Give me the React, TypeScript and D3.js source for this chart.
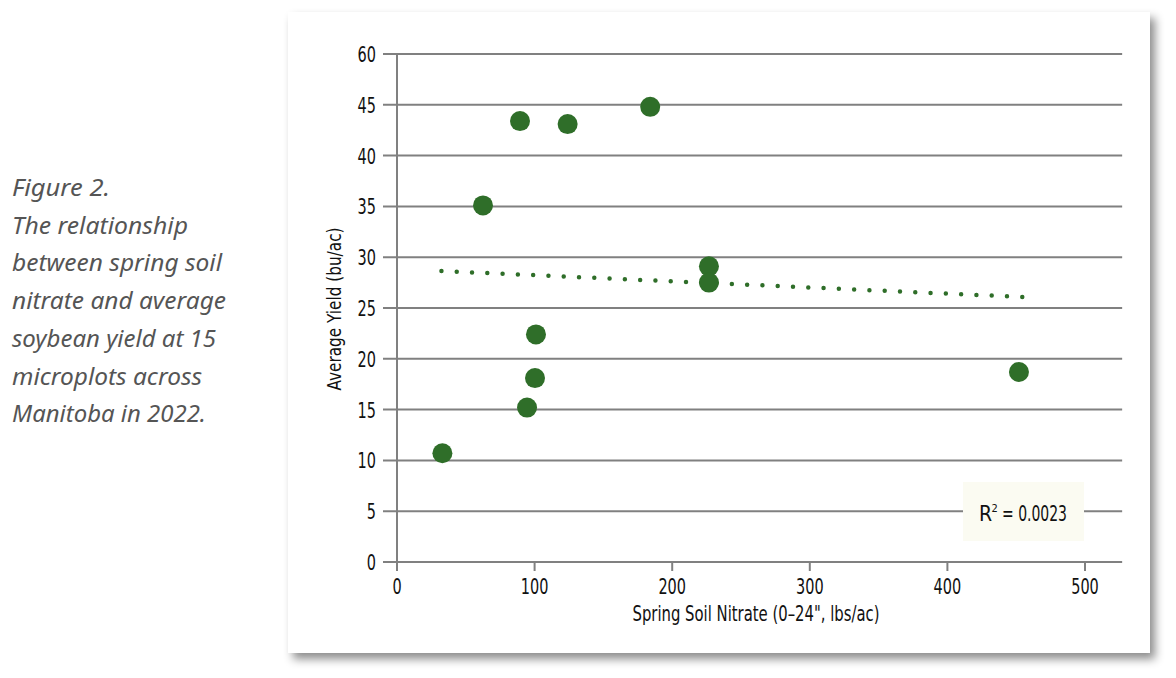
import React from "react";
import * as d3 from "d3";

// ---- data ----
const nitrate = [33, 62.5, 89.4, 124, 184, 101, 100.3, 94.5, 226.7, 226.7, 452];
const yieldAvg = [10.7, 35.1, 43.4, 43.1, 44.8, 22.4, 18.1, 15.2, 29.1, 27.5, 18.7];
const xTickValues = [0, 100, 200, 300, 400, 500];
const yTickValues = [0, 5, 10, 15, 20, 25, 30, 35, 40, 45, 50];
const yTickLabels = ["0", "5", "10", "15", "20", "25", "30", "35", "40", "45", "60"];
const trendStart = { x: 32.3, y: 28.64 };
const trendEnd = { x: 455, y: 26.08 };
const rSquared = "0.0023";
const captionLines = [
  "Figure 2.",
  "The relationship",
  "between spring soil",
  "nitrate and average",
  "soybean yield at 15",
  "microplots across",
  "Manitoba in 2022.",
];
const captionWidths = [98, 176, 210, 214, 204, 190, 194];

const FONT = "'Liberation Sans Narrow', 'DejaVu Sans Condensed', 'Liberation Sans', sans-serif";
const CAPFONT = "'Noto Sans', 'Open Sans', sans-serif";
const GREEN = "#2f6e29";
const GRID = "#808080";

export default function App() {
  const x = d3.scaleLinear().domain([0, 500]).range([397, 1085]);
  const y = d3.scaleLinear().domain([0, 50]).range([562, 54]);
  const gridLeft = 383;
  const gridRight = x(527);

  const digitW = 9.2;

  return (
    <svg
      width={1176}
      height={678}
      style={{ position: "absolute", left: 0, top: 0, background: "#fff" }}
    >
      <defs>
        <filter id="shadow" x="-10%" y="-10%" width="125%" height="125%">
          <feDropShadow dx="5" dy="6" stdDeviation="5" floodColor="#000" floodOpacity="0.45" />
        </filter>
      </defs>
      <rect x={0} y={0} width={1176} height={678} fill="#fff" />

      {/* caption */}
      {captionLines.map((t, i) => (
        <text
          key={i}
          x={12}
          y={196 + i * 37.7}
          fontFamily={CAPFONT}
          fontStyle="italic"
          fontSize={23}
          fill="#555"
          textLength={captionWidths[i]}
          lengthAdjust="spacingAndGlyphs"
        >
          {t}
        </text>
      ))}

      {/* card */}
      <rect x={288} y={12} width={862} height={641} fill="#fff" filter="url(#shadow)" />

      {/* gridlines */}
      {yTickValues.map((v, i) => (
        <line
          key={"g" + i}
          x1={gridLeft}
          x2={gridRight}
          y1={y(v)}
          y2={y(v)}
          stroke={GRID}
          strokeWidth={2}
        />
      ))}

      {/* y axis line */}
      <line x1={x(0)} x2={x(0)} y1={y(50)} y2={y(0) + 9} stroke={GRID} strokeWidth={2} />

      {/* x ticks */}
      {xTickValues.map((v, i) => (
        <g key={"xt" + i}>
          <line x1={x(v)} x2={x(v)} y1={y(0)} y2={y(0) + 9} stroke={GRID} strokeWidth={2} />
          <text
            x={x(v)}
            y={594}
            textAnchor="middle"
            fontFamily={FONT}
            fontSize={22}
            fill="#111"
            textLength={String(v).length * digitW}
            lengthAdjust="spacingAndGlyphs"
          >
            {v}
          </text>
        </g>
      ))}

      {/* y tick labels */}
      {yTickValues.map((v, i) => (
        <text
          key={"yl" + i}
          x={376}
          y={y(v) + 8}
          textAnchor="end"
          fontFamily={FONT}
          fontSize={22}
          fill="#111"
          textLength={yTickLabels[i].length * digitW}
          lengthAdjust="spacingAndGlyphs"
        >
          {yTickLabels[i]}
        </text>
      ))}

      {/* R² box */}
      <rect x={963} y={482} width={121} height={59} fill="#fbfbf2" />
      <text x={979} y={521} fontFamily={FONT} fontSize={21} fill="#111">
        R
      </text>
      <text x={991.5} y={512} fontFamily={FONT} fontSize={11} fill="#111">
        2
      </text>
      <text
        x={1002}
        y={521}
        fontFamily={FONT}
        fontSize={21}
        fill="#111"
        textLength={65}
        lengthAdjust="spacingAndGlyphs"
      >
        {"= " + rSquared}
      </text>

      {/* trend line */}
      <line
        x1={x(trendStart.x)}
        y1={y(trendStart.y)}
        x2={x(trendEnd.x)}
        y2={y(trendEnd.y)}
        stroke={GREEN}
        strokeWidth={4.5}
        strokeLinecap="round"
        strokeDasharray="0 15.3"
      />

      {/* points */}
      {nitrate.map((n, i) => (
        <circle key={"p" + i} cx={x(n)} cy={y(yieldAvg[i])} r={10} fill={GREEN} />
      ))}

      {/* axis titles */}
      <text
        x={756}
        y={621}
        textAnchor="middle"
        fontFamily={FONT}
        fontSize={21}
        fill="#111"
        textLength={247}
        lengthAdjust="spacingAndGlyphs"
      >
        Spring Soil Nitrate (0–24", lbs/ac)
      </text>
      <text
        transform={`translate(341,309) rotate(-90)`}
        textAnchor="middle"
        fontFamily={FONT}
        fontSize={20}
        fill="#111"
        textLength={163}
        lengthAdjust="spacingAndGlyphs"
      >
        Average  Yield (bu/ac)
      </text>
    </svg>
  );
}
